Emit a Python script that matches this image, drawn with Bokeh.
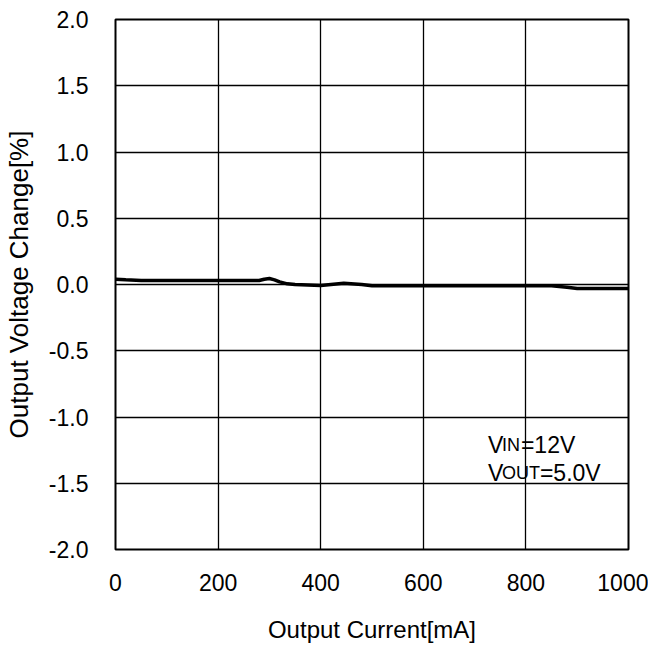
from bokeh.plotting import figure
from bokeh.models import FixedTicker, Label, CustomJSTickFormatter, Range1d
from bokeh.embed import file_html
from bokeh.resources import INLINE

# Data
current = [0, 20, 50, 100, 200, 280, 290, 300, 310, 320, 335, 350, 400, 445, 480, 500, 600, 700, 800, 850, 880, 900, 1000]
change = [0.04, 0.035, 0.03, 0.03, 0.03, 0.03, 0.04, 0.045, 0.035, 0.02, 0.005, 0.0, -0.008, 0.01, 0.0, -0.01, -0.01, -0.01, -0.01, -0.01, -0.02, -0.03, -0.03]

x_ticks = [0, 200, 400, 600, 800, 1000]
y_ticks = [-2.0, -1.5, -1.0, -0.5, 0.0, 0.5, 1.0, 1.5, 2.0]

FONT = "Liberation Sans"

p = figure(width=648, height=648, output_backend="svg", toolbar_location=None,
           x_range=Range1d(0, 1000), y_range=Range1d(-2.0, 2.0),
           min_border_left=115, min_border_top=19, min_border_right=20, min_border_bottom=99)

p.outline_line_color = "black"
p.outline_line_width = 2
p.background_fill_color = "white"
p.border_fill_color = "white"

for ax in (p.xaxis[0], p.yaxis[0]):
    ax.axis_line_color = None
    ax.major_tick_line_color = None
    ax.minor_tick_line_color = None
    ax.major_tick_out = 0
    ax.major_tick_in = 0
    ax.major_label_text_font = FONT
    ax.major_label_text_font_size = "23px"
    ax.major_label_text_color = "black"
    ax.axis_label_text_font = FONT
    ax.axis_label_text_font_style = "normal"
    ax.axis_label_text_color = "black"

p.xaxis.axis_label_text_font_size = "24px"
p.yaxis.axis_label_text_font_size = "26px"
p.xaxis.ticker = FixedTicker(ticks=x_ticks)
p.yaxis.ticker = FixedTicker(ticks=y_ticks)
p.yaxis.formatter = CustomJSTickFormatter(code="return tick.toFixed(1);")
p.xaxis.major_label_standoff = 24
p.yaxis.major_label_standoff = 27
p.xaxis.axis_label = "Output Current[mA]"
p.yaxis.axis_label = "Output Voltage Change[%]"
p.xaxis.axis_label_standoff = 22
p.yaxis.axis_label_standoff = 12

p.xgrid.ticker = FixedTicker(ticks=x_ticks)
p.ygrid.ticker = FixedTicker(ticks=y_ticks)
for g in (p.xgrid[0], p.ygrid[0]):
    g.grid_line_color = "black"
    g.grid_line_width = 1.3
    g.grid_line_alpha = 1.0

p.line(current, change, line_color="black", line_width=3.5)

# Annotation with small-caps subscripts
def add_text(txt, y, xoff, size):
    p.add_layout(Label(x=726, y=y, x_offset=xoff, text=txt, text_font=FONT,
                       text_font_size=size, text_color="black", text_baseline="alphabetic",
                       text_align="left"))

add_text("V", -1.215, 0, "23px")
add_text("IN", -1.215, 14, "18px")
add_text("=12V", -1.215, 33, "23px")
add_text("V", -1.426, 0, "23px")
add_text("OUT", -1.426, 14, "18px")
add_text("=5.0V", -1.426, 52, "23px")

open("out.html", "w").write(file_html(p, INLINE))
